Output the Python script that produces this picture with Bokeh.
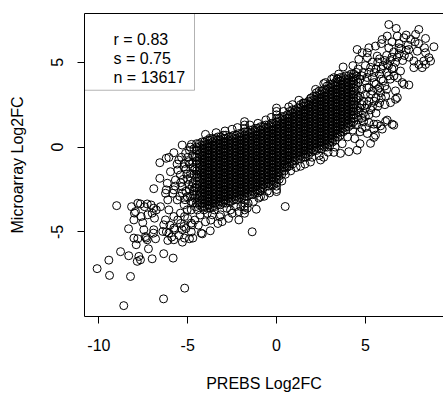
from bokeh.plotting import figure
from bokeh.models import Range1d, FixedTicker, LinearAxis, Label, BoxAnnotation, ColumnDataSource
from bokeh.embed import file_html
from bokeh.resources import INLINE

# ---------------- data ----------------
X_LABEL = "PREBS Log2FC"
Y_LABEL = "Microarray Log2FC"
x_ticks = [-10, -5, 0, 5]
x_tick_labels = ["-10", "-5", "0", "5"]
y_ticks = [-5, 0, 5]
y_tick_labels = ["-5", "0", "5"]
stats_lines = ["r = 0.83", "s = 0.75", "n = 13617"]

# dense core: PREBS value -> Microarray values stacked in that column
core_columns = [
    (-4.5, [-2.8, -2.4, -2.2, -1.8, -1.6, -1.4, -1.0, -0.8, -0.6, -0.2, 0.0, 0.2]),
    (-4.35, [-3.4, -3.2, -3.0, -2.8, -2.6, -2.4, -2.2, -2.0, -1.8, -1.6, -1.4, -1.2, -1.0, -0.8, -0.6, -0.4, -0.2, 0.0, 0.2]),
    (-4.2, [-3.5, -3.3, -3.1, -2.9, -2.7, -2.5, -2.3, -2.1, -1.9, -1.7, -1.5, -1.3, -1.1, -0.9, -0.7, -0.5, -0.3, -0.1, 0.1, 0.3]),
    (-4.05, [-3.5, -3.3, -3.1, -2.9, -2.7, -2.5, -2.3, -2.1, -1.9, -1.7, -1.5, -1.3, -1.1, -0.9, -0.7, -0.5, -0.3, -0.1, 0.1, 0.3]),
    (-3.9, [-3.6, -3.4, -3.2, -3.0, -2.8, -2.6, -2.4, -2.2, -2.0, -1.8, -1.6, -1.4, -1.2, -1.0, -0.8, -0.6, -0.4, -0.2, 0.0, 0.2, 0.4]),
    (-3.75, [-3.6, -3.4, -3.2, -3.0, -2.8, -2.6, -2.4, -2.2, -2.0, -1.8, -1.6, -1.4, -1.2, -1.0, -0.8, -0.6, -0.4, -0.2, 0.0, 0.2, 0.4]),
    (-3.6, [-3.5, -3.3, -3.1, -2.9, -2.7, -2.5, -2.3, -2.1, -1.9, -1.7, -1.5, -1.3, -1.1, -0.9, -0.7, -0.5, -0.3, -0.1, 0.1, 0.3, 0.5]),
    (-3.45, [-3.5, -3.3, -3.1, -2.9, -2.7, -2.5, -2.3, -2.1, -1.9, -1.7, -1.5, -1.3, -1.1, -0.9, -0.7, -0.5, -0.3, -0.1, 0.1, 0.3, 0.5]),
    (-3.3, [-3.4, -3.2, -3.0, -2.8, -2.6, -2.4, -2.2, -2.0, -1.8, -1.6, -1.4, -1.2, -1.0, -0.8, -0.6, -0.4, -0.2, 0.0, 0.2, 0.4, 0.6]),
    (-3.15, [-3.4, -3.2, -3.0, -2.8, -2.6, -2.4, -2.2, -2.0, -1.8, -1.6, -1.4, -1.2, -1.0, -0.8, -0.6, -0.4, -0.2, 0.0, 0.2, 0.4, 0.6]),
    (-3.0, [-3.3, -3.1, -2.9, -2.7, -2.5, -2.3, -2.1, -1.9, -1.7, -1.5, -1.3, -1.1, -0.9, -0.7, -0.5, -0.3, -0.1, 0.1, 0.3, 0.5, 0.7]),
    (-2.85, [-3.3, -3.1, -2.9, -2.7, -2.5, -2.3, -2.1, -1.9, -1.7, -1.5, -1.3, -1.1, -0.9, -0.7, -0.5, -0.3, -0.1, 0.1, 0.3, 0.5, 0.7]),
    (-2.7, [-3.2, -3.0, -2.8, -2.6, -2.4, -2.2, -2.0, -1.8, -1.6, -1.4, -1.2, -1.0, -0.8, -0.6, -0.4, -0.2, 0.0, 0.2, 0.4, 0.6]),
    (-2.55, [-3.2, -3.0, -2.8, -2.6, -2.4, -2.2, -2.0, -1.8, -1.6, -1.4, -1.2, -1.0, -0.8, -0.6, -0.4, -0.2, 0.0, 0.2, 0.4, 0.6]),
    (-2.4, [-3.1, -2.9, -2.7, -2.5, -2.3, -2.1, -1.9, -1.7, -1.5, -1.3, -1.1, -0.9, -0.7, -0.5, -0.3, -0.1, 0.1, 0.3, 0.5, 0.7]),
    (-2.25, [-3.1, -2.9, -2.7, -2.5, -2.3, -2.1, -1.9, -1.7, -1.5, -1.3, -1.1, -0.9, -0.7, -0.5, -0.3, -0.1, 0.1, 0.3, 0.5, 0.7]),
    (-2.1, [-3.0, -2.8, -2.6, -2.4, -2.2, -2.0, -1.8, -1.6, -1.4, -1.2, -1.0, -0.8, -0.6, -0.4, -0.2, 0.0, 0.2, 0.4, 0.6, 0.8]),
    (-1.95, [-3.0, -2.8, -2.6, -2.4, -2.2, -2.0, -1.8, -1.6, -1.4, -1.2, -1.0, -0.8, -0.6, -0.4, -0.2, 0.0, 0.2, 0.4, 0.6, 0.8]),
    (-1.8, [-3.9, -3.7, -3.5, -3.3, -3.1, -2.9, -2.7, -2.5, -2.3, -2.1, -1.9, -1.7, -1.5, -1.3, -1.1, -0.9, -0.7, -0.5, -0.3, -0.1, 0.1, 0.3, 0.5, 0.7, 0.9, 1.1, 1.3, 1.5]),
    (-1.65, [-2.9, -2.7, -2.5, -2.3, -2.1, -1.9, -1.7, -1.5, -1.3, -1.1, -0.9, -0.7, -0.5, -0.3, -0.1, 0.1, 0.3, 0.5, 0.7, 0.9]),
    (-1.5, [-2.8, -2.6, -2.4, -2.2, -2.0, -1.8, -1.6, -1.4, -1.2, -1.0, -0.8, -0.6, -0.4, -0.2, 0.0, 0.2, 0.4, 0.6, 0.8, 1.0]),
    (-1.35, [-2.8, -2.6, -2.4, -2.2, -2.0, -1.8, -1.6, -1.4, -1.2, -1.0, -0.8, -0.6, -0.4, -0.2, 0.0, 0.2, 0.4, 0.6, 0.8, 1.0]),
    (-1.2, [-2.7, -2.5, -2.3, -2.1, -1.9, -1.7, -1.5, -1.3, -1.1, -0.9, -0.7, -0.5, -0.3, -0.1, 0.1, 0.3, 0.5, 0.7, 0.9, 1.1]),
    (-1.05, [-2.7, -2.5, -2.3, -2.1, -1.9, -1.7, -1.5, -1.3, -1.1, -0.9, -0.7, -0.5, -0.3, -0.1, 0.1, 0.3, 0.5, 0.7, 0.9, 1.1]),
    (-0.9, [-2.6, -2.4, -2.2, -2.0, -1.8, -1.6, -1.4, -1.2, -1.0, -0.8, -0.6, -0.4, -0.2, 0.0, 0.2, 0.4, 0.6, 0.8, 1.0, 1.2]),
    (-0.75, [-2.4, -2.2, -2.0, -1.8, -1.6, -1.4, -1.2, -1.0, -0.8, -0.6, -0.4, -0.2, 0.0, 0.2, 0.4, 0.6, 0.8, 1.0, 1.2]),
    (-0.6, [-2.3, -2.1, -1.9, -1.7, -1.5, -1.3, -1.1, -0.9, -0.7, -0.5, -0.3, -0.1, 0.1, 0.3, 0.5, 0.7, 0.9, 1.1, 1.3]),
    (-0.45, [-2.3, -2.1, -1.9, -1.7, -1.5, -1.3, -1.1, -0.9, -0.7, -0.5, -0.3, -0.1, 0.1, 0.3, 0.5, 0.7, 0.9, 1.1, 1.3]),
    (-0.3, [-2.2, -2.0, -1.8, -1.6, -1.4, -1.2, -1.0, -0.8, -0.6, -0.4, -0.2, 0.0, 0.2, 0.4, 0.6, 0.8, 1.0, 1.2, 1.4]),
    (-0.15, [-2.2, -2.0, -1.8, -1.6, -1.4, -1.2, -1.0, -0.8, -0.6, -0.4, -0.2, 0.0, 0.2, 0.4, 0.6, 0.8, 1.0, 1.2, 1.4]),
    (0.0, [-2.5, -2.3, -2.1, -1.9, -1.7, -1.5, -1.3, -1.1, -0.9, -0.7, -0.5, -0.3, -0.1, 0.1, 0.3, 0.5, 0.7, 0.9, 1.1, 1.3, 1.5, 1.7, 1.9, 2.1, 2.3]),
    (0.15, [-1.9, -1.7, -1.5, -1.3, -1.1, -0.9, -0.7, -0.5, -0.3, -0.1, 0.1, 0.3, 0.5, 0.7, 0.9, 1.1, 1.3, 1.5, 1.7]),
    (0.3, [-1.6, -1.4, -1.2, -1.0, -0.8, -0.6, -0.4, -0.2, 0.0, 0.2, 0.4, 0.6, 0.8, 1.0, 1.2, 1.4, 1.6, 1.8]),
    (0.45, [-1.4, -1.2, -1.0, -0.8, -0.6, -0.4, -0.2, 0.0, 0.2, 0.4, 0.6, 0.8, 1.0, 1.2, 1.4, 1.6, 1.8]),
    (0.6, [-1.1, -0.9, -0.7, -0.5, -0.3, -0.1, 0.1, 0.3, 0.5, 0.7, 0.9, 1.1, 1.3, 1.5, 1.7, 1.9]),
    (0.75, [-1.1, -0.9, -0.7, -0.5, -0.3, -0.1, 0.1, 0.3, 0.5, 0.7, 0.9, 1.1, 1.3, 1.5, 1.7, 1.9, 2.1]),
    (0.9, [-1.0, -0.8, -0.6, -0.4, -0.2, 0.0, 0.2, 0.4, 0.6, 0.8, 1.0, 1.2, 1.4, 1.6, 1.8, 2.0, 2.2]),
    (1.05, [-0.8, -0.6, -0.4, -0.2, 0.0, 0.2, 0.4, 0.6, 0.8, 1.0, 1.2, 1.4, 1.6, 1.8, 2.0, 2.2]),
    (1.2, [-0.7, -0.5, -0.3, -0.1, 0.1, 0.3, 0.5, 0.7, 0.9, 1.1, 1.3, 1.5, 1.7, 1.9, 2.1, 2.3]),
    (1.35, [-0.7, -0.5, -0.3, -0.1, 0.1, 0.3, 0.5, 0.7, 0.9, 1.1, 1.3, 1.5, 1.7, 1.9, 2.1, 2.3, 2.5]),
    (1.5, [-0.6, -0.4, -0.2, 0.0, 0.2, 0.4, 0.6, 0.8, 1.0, 1.2, 1.4, 1.6, 1.8, 2.0, 2.2, 2.4, 2.6]),
    (1.65, [-0.6, -0.4, -0.2, 0.0, 0.2, 0.4, 0.6, 0.8, 1.0, 1.2, 1.4, 1.6, 1.8, 2.0, 2.2, 2.4, 2.6]),
    (1.8, [-0.5, -0.3, -0.1, 0.1, 0.3, 0.5, 0.7, 0.9, 1.1, 1.3, 1.5, 1.7, 1.9, 2.1, 2.3, 2.5, 2.7]),
    (1.95, [-0.3, -0.1, 0.1, 0.3, 0.5, 0.7, 0.9, 1.1, 1.3, 1.5, 1.7, 1.9, 2.1, 2.3, 2.5, 2.7, 2.9]),
    (2.1, [-0.2, 0.0, 0.2, 0.4, 0.6, 0.8, 1.0, 1.2, 1.4, 1.6, 1.8, 2.0, 2.2, 2.4, 2.6, 2.8, 3.0]),
    (2.25, [-0.2, 0.0, 0.2, 0.4, 0.6, 0.8, 1.0, 1.2, 1.4, 1.6, 1.8, 2.0, 2.2, 2.4, 2.6, 2.8, 3.0, 3.2]),
    (2.4, [-0.1, 0.1, 0.3, 0.5, 0.7, 0.9, 1.1, 1.3, 1.5, 1.7, 1.9, 2.1, 2.3, 2.5, 2.7, 2.9, 3.1, 3.3]),
    (2.55, [-0.1, 0.1, 0.3, 0.5, 0.7, 0.9, 1.1, 1.3, 1.5, 1.7, 1.9, 2.1, 2.3, 2.5, 2.7, 2.9, 3.1, 3.3]),
    (2.7, [0.0, 0.2, 0.4, 0.6, 0.8, 1.0, 1.2, 1.4, 1.6, 1.8, 2.0, 2.2, 2.4, 2.6, 2.8, 3.0, 3.2, 3.4]),
    (2.85, [0.0, 0.2, 0.4, 0.6, 0.8, 1.0, 1.2, 1.4, 1.6, 1.8, 2.0, 2.2, 2.4, 2.6, 2.8, 3.0, 3.2, 3.4, 3.6]),
    (3.0, [0.1, 0.3, 0.5, 0.7, 0.9, 1.1, 1.3, 1.5, 1.7, 1.9, 2.1, 2.3, 2.5, 2.7, 2.9, 3.1, 3.3, 3.5, 3.7]),
    (3.15, [0.3, 0.5, 0.7, 0.9, 1.1, 1.3, 1.5, 1.7, 1.9, 2.1, 2.3, 2.5, 2.7, 2.9, 3.1, 3.3, 3.5, 3.7]),
    (3.3, [0.4, 0.6, 0.8, 1.0, 1.2, 1.4, 1.6, 1.8, 2.0, 2.2, 2.4, 2.6, 2.8, 3.0, 3.2, 3.4, 3.6, 3.8]),
    (3.45, [0.6, 0.8, 1.0, 1.2, 1.4, 1.6, 1.8, 2.0, 2.2, 2.4, 2.6, 2.8, 3.0, 3.2, 3.4, 3.6, 3.8, 4.0]),
    (3.6, [0.7, 0.9, 1.1, 1.3, 1.5, 1.7, 1.9, 2.1, 2.3, 2.5, 2.7, 2.9, 3.1, 3.3, 3.5, 3.7, 3.9, 4.1]),
    (3.75, [0.9, 1.1, 1.3, 1.5, 1.7, 1.9, 2.1, 2.3, 2.5, 2.7, 2.9, 3.1, 3.3, 3.5, 3.7, 3.9, 4.1]),
    (3.9, [1.0, 1.2, 1.4, 1.6, 1.8, 2.0, 2.2, 2.4, 2.6, 2.8, 3.0, 3.2, 3.4, 3.6, 3.8, 4.0, 4.2]),
    (4.05, [1.2, 1.4, 1.6, 1.8, 2.0, 2.2, 2.4, 2.6, 2.8, 3.0, 3.2, 3.4, 3.6, 3.8, 4.0, 4.2]),
    (4.2, [1.3, 1.5, 1.7, 1.9, 2.1, 2.3, 2.5, 2.7, 2.9, 3.1, 3.3, 3.5, 3.7, 3.9, 4.1, 4.3]),
    (4.35, [1.5, 1.7, 1.9, 2.1, 2.3, 2.5, 2.7, 2.9, 3.1, 3.3, 3.5, 3.7, 3.9, 4.1, 4.3]),
    (4.5, [1.8, 2.2, 2.4, 2.8, 3.0, 3.4, 3.6, 4.0, 4.2, 4.4]),
]

# sparser genes around the core and the outliers: (PREBS, Microarray)
outer_points = [
    # lower-left tail
    (-10.1, -7.16), (-9.44, -6.66), (-9.4, -7.56), (-8.78, -6.16), (-8.32, -6.4), (-8.22, -7.62),
    (-8.6, -9.34), (-7.84, -6.73), (-7.66, -6.64), (-7.0, -6.58), (-6.35, -6.28), (-5.82, -6.54),
    (-6.36, -8.94), (-5.17, -8.31), (-7.21, -5.99), (-7.75, -6.44),
    (-7.9, -5.75), (-7.34, -5.36), (-6.81, -5.4), (-6.12, -5.5), (-5.18, -5.36), (-4.71, -5.36),
    (-4.24, -5.07), (-3.73, -4.93), (-8.33, -4.81), (-7.47, -4.87), (-7.81, -5.4), (-6.93, -5.07),
    (-6.4, -4.97), (-5.74, -4.87), (-9.0, -3.45), (-8.16, -3.51), (-7.66, -3.35), (-7.28, -3.35),
    (-6.91, -3.6), (-7.0, -3.89), (-7.94, -3.8), (-8.03, -4.29), (-7.53, -4.45), (-7.81, -3.31),
    (-7.43, -3.51), (-7.06, -3.41), (-6.77, -3.7), (-8.0, -3.89), (-7.62, -4.09), (-7.25, -3.99),
    (-6.87, -4.19), (-6.53, -3.51), (-6.06, -3.7), (-6.25, -4.29), (-5.78, -4.09), (-5.41, -3.89),
    (-5.03, -3.7), (-4.56, -3.51), (-5.56, -4.29), (-5.18, -4.09), (-4.8, -4.48), (-8.03, -5.36),
    (-7.38, -5.27), (-5.78, -4.77), (-5.22, -4.68), (-4.75, -4.58), (-4.18, -5.11), (-5.31, -4.87),
    (-5.78, -5.46), (-6.06, -5.07), (-6.35, -4.58), (-6.91, -4.87), (-7.28, -5.46),
    (-6.0, -4.6), (-5.4, -4.5), (-5.1, -4.8), (-4.8, -5.0), (-5.5, -5.2), (-6.2, -5.0), (-5.9, -5.3),
    (-4.6, -4.3), (-4.4, -4.6), (-5.0, -4.2), (-4.9, -5.4), (-5.3, -5.6),
    # below the core
    (-4.09, -3.7), (-3.62, -3.99), (-3.06, -4.39), (-2.59, -3.7), (-2.12, -4.29), (-1.37, -4.99),
    (-1.14, -3.66), (0.49, -3.5), (-0.52, -2.6), (-0.9, -2.92), (-2.12, -3.8), (-3.15, -3.99),
    (-1.65, -3.6), (-3.9, -3.9), (-3.5, -3.7), (-3.2, -4.1), (-2.8, -3.6), (-2.5, -3.9), (-2.3, -3.5),
    (-3.7, -4.3), (-4.3, -4.0), (-4.0, -4.4), (-2.0, -3.5), (-1.6, -3.3), (-1.3, -3.2), (-1.0, -3.0),
    (-0.7, -2.9), (-0.4, -2.7), (-3.3, -4.5), (-2.7, -4.2), (-4.5, -3.3), (-4.45, -3.7),
    # left of the core
    (-5.31, 0.12), (-4.79, 0.16), (-3.76, 0.51), (-6.57, -0.92), (-6.06, -0.61), (-5.78, -0.33),
    (-5.5, -0.76), (-5.12, -0.37), (-5.97, -1.45), (-5.69, -1.94), (-5.41, -1.64), (-5.22, -1.16),
    (-4.94, -0.86), (-4.84, -1.55), (-6.91, -2.45), (-6.57, -1.84), (-6.15, -2.13), (-6.25, -2.72),
    (-5.78, -2.52), (-5.31, -2.33), (-5.03, -2.92), (-4.75, -2.33), (-5.59, -3.11), (-6.21, -0.66),
    (-5.56, -1.35), (-5.18, -0.96), (-6.21, -2.52), (-5.84, -2.72), (-6.12, -3.11),
    (-4.9, -0.2), (-5.0, -1.9), (-4.7, -2.8), (-5.2, -3.4), (-4.8, -3.2), (-4.7, -1.2), (-5.3, -2.7),
    (-4.9, -2.5), (-4.7, -0.5), (-5.1, -1.3), (-4.8, -3.7),
    (-4.65, -0.1), (-4.7, -0.9), (-4.65, -1.6), (-4.7, -2.1), (-4.65, -2.6), (-4.7, -3.3),
    (-4.85, 0.0), (-4.9, -1.0), (-4.85, -1.8), (-4.95, -2.2), (-4.85, -2.9), (-5.0, -0.6),
    (-5.05, -1.6), (-5.1, -2.6), (-5.15, -3.1), (-4.6, -0.6), (-4.6, -1.3), (-4.6, -2.4),
    (-4.6, -3.0), (-5.25, -1.9), (-5.35, -0.6), (-5.4, -2.1), (-5.45, -2.9), (-5.6, -1.0),
    (-5.7, -2.3),
    # above the core
    (-4.0, 0.75), (-3.4, 0.85), (-2.9, 0.95), (-2.5, 1.05), (-2.2, 1.15), (-1.5, 1.3), (-1.05, 1.4),
    (-0.6, 1.6), (-0.3, 1.75), (0.69, 2.37), (1.26, 2.76), (1.91, 2.86), (1.54, 2.57), (2.66, 3.74),
    (3.42, 4.03), (3.75, 4.72), (0.4, 2.1), (0.9, 2.5), (2.2, 3.4), (3.1, 4.0), (3.5, 4.3), (4.3, 4.8),
    (3.23, 4.09), (2.76, 3.8),
    # upper-right arm
    (6.32, 7.22), (6.74, 6.99), (8.01, 6.93), (8.39, 6.4), (8.86, 5.91), (7.83, 6.64), (7.55, 6.34),
    (7.17, 6.44), (6.8, 6.54), (6.23, 6.54), (5.95, 6.34), (6.32, 5.85), (6.89, 5.85), (7.45, 5.75),
    (7.92, 5.65), (8.39, 5.56), (8.58, 5.27), (8.29, 5.07), (8.01, 4.87), (7.73, 4.68), (4.54, 5.75),
    (4.82, 5.56), (5.2, 5.85), (5.57, 5.95), (4.63, 5.17), (5.11, 5.27), (5.67, 5.36), (6.23, 4.87),
    (6.6, 4.68), (6.98, 4.48), (6.8, 4.09), (7.17, 3.7), (7.45, 3.66), (6.7, 3.31), (6.7, 2.82),
    (6.42, 2.62), (6.14, 3.01), (5.86, 3.21), (5.2, 1.45), (5.67, 1.35), (6.14, 1.51), (6.51, 1.35),
    (5.95, 1.06), (5.48, 1.06), (5.01, 1.16), (6.23, 1.59), (6.6, 1.29), (8.33, 5.85), (8.67, 5.07),
    (8.39, 4.87), (8.2, 4.68), (7.73, 5.07), (7.45, 5.3), (7.08, 3.8), (6.61, 4.19), (6.8, 2.92),
    (5.86, 1.25), (5.48, 1.35), (5.11, 5.56),
    (4.6, 4.6), (4.8, 4.2), (5.0, 4.8), (5.2, 4.4), (5.4, 5.0), (5.6, 4.6), (5.8, 5.2), (6.0, 4.8),
    (6.2, 5.4), (6.4, 5.1), (6.6, 5.6), (6.8, 5.3), (7.0, 5.8), (7.2, 5.4), (7.4, 6.0), (7.8, 6.2),
    (8.0, 6.1), (4.6, 3.8), (4.8, 3.4), (5.0, 3.9), (5.2, 3.5), (5.4, 4.1), (5.6, 3.7), (5.8, 4.3),
    (6.0, 3.9), (6.2, 4.4), (6.4, 4.0), (4.6, 2.9), (4.8, 2.5), (5.0, 3.1), (5.2, 2.7), (5.4, 3.3),
    (5.6, 2.9), (5.8, 3.5), (6.2, 3.4), (4.6, 2.1), (4.8, 1.7), (5.0, 2.3), (5.2, 1.9), (5.4, 2.4),
    (5.6, 2.0), (5.8, 2.6), (4.5, 1.3), (4.7, 0.9), (4.9, 1.5), (4.4, 0.5), (4.7, 0.2), (5.9, 6.1),
    (6.5, 6.2), (6.9, 6.1), (7.3, 6.6),
    (4.7, 3.0), (4.9, 2.7), (5.1, 3.5), (5.3, 3.1), (5.5, 3.8), (5.7, 3.4), (5.9, 4.0), (6.1, 3.6),
    (6.3, 4.2), (6.5, 4.6), (4.7, 4.0), (4.9, 4.4), (5.1, 4.1), (5.3, 4.7), (5.5, 4.4), (5.7, 5.0),
    (5.9, 4.6), (6.1, 5.1), (6.3, 4.8), (6.5, 5.3), (6.7, 5.0), (6.9, 5.5), (7.1, 5.1), (7.3, 5.7),
    (4.7, 2.3), (4.9, 2.0), (5.1, 2.5), (5.3, 2.2), (5.5, 2.7), (5.7, 2.4), (5.9, 2.9), (6.1, 2.5),
    (4.6, 1.6), (5.0, 1.8), (4.8, 1.1),
    # below the core, right side
    (0.6, -1.19), (1.35, -1.13), (1.91, -0.88), (2.48, -0.76), (2.66, -0.6), (3.23, -0.31),
    (3.6, -0.37), (4.07, -0.27), (4.54, -0.18), (5.29, 0.22), (5.57, 0.7), (5.11, 0.8), (5.48, 0.57),
    (0.3, -2.0), (0.5, -1.6), (0.8, -1.4), (1.1, -1.2), (1.6, -1.0), (2.0, -0.6), (2.4, -0.5),
    (2.9, -0.3), (3.3, 0.0), (3.7, 0.2), (4.0, 0.6), (4.3, 1.0), (0.0, -2.62),
]

prebs = [cx for cx, ys in core_columns for _ in ys] + [pt[0] for pt in outer_points]
microarray = [cy for _, ys in core_columns for cy in ys] + [pt[1] for pt in outer_points]

# ---------------- layout / style ----------------
FONT = "Liberation Sans"
W, H = 443, 394
BL, BR, BT, BB = 84, 0, 13, 77
x0, x1 = -10.81, 9.40
y0, y1 = -9.98, 7.87

p = figure(width=W, height=H, output_backend="svg", toolbar_location=None,
           x_range=Range1d(x0, x1), y_range=Range1d(y0, y1),
           min_border_left=BL, min_border_right=BR, min_border_top=BT, min_border_bottom=BB,
           x_axis_label=X_LABEL, y_axis_label=Y_LABEL)
p.grid.visible = False
p.outline_line_color = None
p.background_fill_color = "white"
p.border_fill_color = "white"

for ax in (p.xaxis[0], p.yaxis[0]):
    ax.axis_line_color = "black"
    ax.axis_line_width = 1
    ax.major_tick_line_color = "black"
    ax.major_tick_out = 7
    ax.major_tick_in = 0
    ax.minor_tick_line_color = None
    ax.major_label_text_font = FONT
    ax.major_label_text_font_size = "16px"
    ax.major_label_text_color = "black"
    ax.axis_label_text_font = FONT
    ax.axis_label_text_font_size = "16px"
    ax.axis_label_text_font_style = "normal"
    ax.axis_label_text_color = "black"

p.xaxis.ticker = FixedTicker(ticks=x_ticks)
p.yaxis.ticker = FixedTicker(ticks=y_ticks)
p.xaxis.major_label_overrides = {t: s for t, s in zip(x_ticks, x_tick_labels)}
p.yaxis.major_label_overrides = {t: s for t, s in zip(y_ticks, y_tick_labels)}
p.yaxis.major_label_orientation = "vertical"
p.xaxis.major_label_standoff = 15
p.xaxis.axis_label_standoff = 21
p.yaxis.major_label_standoff = 14
p.yaxis.axis_label_standoff = 23

top_ax = LinearAxis(ticker=FixedTicker(ticks=[]), major_label_text_font_size="0px",
                    major_tick_out=0, major_tick_in=0, minor_tick_out=0, minor_tick_in=0,
                    major_label_standoff=0, axis_line_color="black", axis_line_width=1)
p.add_layout(top_ax, "above")

src = ColumnDataSource(data=dict(x=prebs, y=microarray))
p.scatter("x", "y", source=src, marker="circle", size=8, fill_color=None,
          line_color="black", line_width=1)

# legend-like stats box in the top-left corner of the frame
sx = (W - BL - BR) / (x1 - x0)
sy = (H - BT - BB) / (y1 - y0)
box = BoxAnnotation(left=x0, right=x0 + 110 / sx, top=y1, bottom=y1 - 77 / sy,
                    fill_color=None, fill_alpha=0, line_color="black", line_width=1)
p.add_layout(box)
for i, t in enumerate(stats_lines):
    p.add_layout(Label(x=x0 + 29 / sx, y=y1 - (26 + 19.2 * i) / sy, text=t,
                       text_align="left", text_baseline="alphabetic",
                       text_font=FONT, text_font_size="16px", text_color="black"))

open("out.html", "w").write(file_html(p, INLINE))
